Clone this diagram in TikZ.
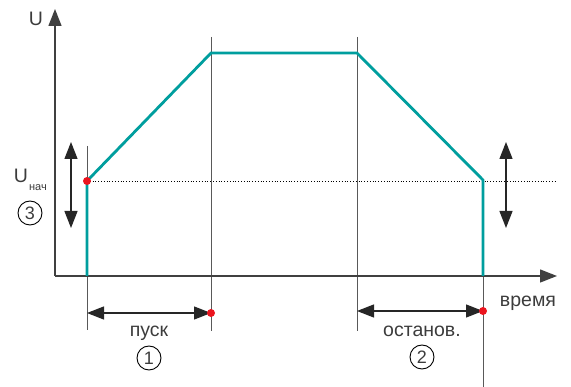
\documentclass[tikz,border=0pt]{standalone}
\usepackage{fontspec}
\setmainfont{Liberation Sans}
\usetikzlibrary{arrows.meta}
\definecolor{tealc}{RGB}{0,158,158}
\definecolor{txt}{RGB}{60,60,60}
\definecolor{reddot}{RGB}{235,20,30}
\begin{document}
\begin{tikzpicture}[x=1pt,y=-1pt,
  axis/.style={line width=1.4pt,draw=black!75,-{Triangle[length=17pt,width=13pt]}},
  guide/.style={line width=0.9pt,draw=black!65},
  curve/.style={line width=2.8pt,draw=tealc,line join=miter},
  dim/.style={line width=1.3pt,draw=black!85,{Triangle[length=17pt,width=13pt]}-{Triangle[length=17pt,width=13pt]}},
  lbl/.style={text=txt,font=\fontsize{19.5}{22}\selectfont,inner sep=0pt},
  num/.style={circle,draw=black,line width=0.9pt,minimum size=24pt,inner sep=0pt,text=txt,font=\fontsize{18}{20}\selectfont},
  dot/.style={circle,fill=reddot,minimum size=8pt,inner sep=0pt}]
\useasboundingbox (0,0) rectangle (571,387);
% coordinates
\coordinate (o) at (55,276);
\coordinate (ytip) at (55,9);
\coordinate (xtip) at (557,276);
\coordinate (a0) at (87,276);
\coordinate (a1) at (87,181);
\coordinate (a2) at (211,53);
\coordinate (a3) at (357,53);
\coordinate (a4) at (483,180);
\coordinate (a5) at (483,276);
\coordinate (dotend) at (556,181);
% guides
\draw[guide] (87,146) -- (87,330);
\draw[guide] (211,37) -- (211,331);
\draw[guide] (357,37) -- (357,331);
\draw[guide] (483,180) -- (483,387);
% axes
\draw[axis] (o) -- (ytip);
\draw[axis] (o) -- (xtip);
% dotted
\draw[line width=0.8pt,dotted] (a1) -- (dotend);
% curve
\draw[curve] (a0) -- (a1) -- (a2) -- (a3) -- (a4) -- (a5);
% dimension arrows
\coordinate (d1a) at (87,313);
\coordinate (d1b) at (211,313);
\coordinate (d2a) at (357,311);
\coordinate (d2b) at (483,311);
\draw[dim] (d1a) -- (d1b);
\draw[dim] (d2a) -- (d2b);
\draw[dim] (71,142) -- (71,228);
\draw[dim] (506,142) -- (506,228);
% dots
\node[dot] (p1) at (a1) {};
\node[dot] (p2) at (d1b) {};
\node[dot] (p3) at (d2b) {};
% labels
\node[lbl] (U) at (36,19) {U};
\node[lbl] (Un) at (21,176) {U};
\node[lbl,font=\fontsize{11}{12}\selectfont] (nach) at (38,188) {нач};
\node[num] (n3) at (30,213) {3};
\node[lbl] (pusk) at (149,333) {пуск};
\node[num] (n1) at (149,358) {1};
\node[lbl] (ost) at (422,331) {останов.};
\node[num] (n2) at (422,357) {2};
\node[lbl] (vr) at (528,303) {время};
\end{tikzpicture}
\end{document}
